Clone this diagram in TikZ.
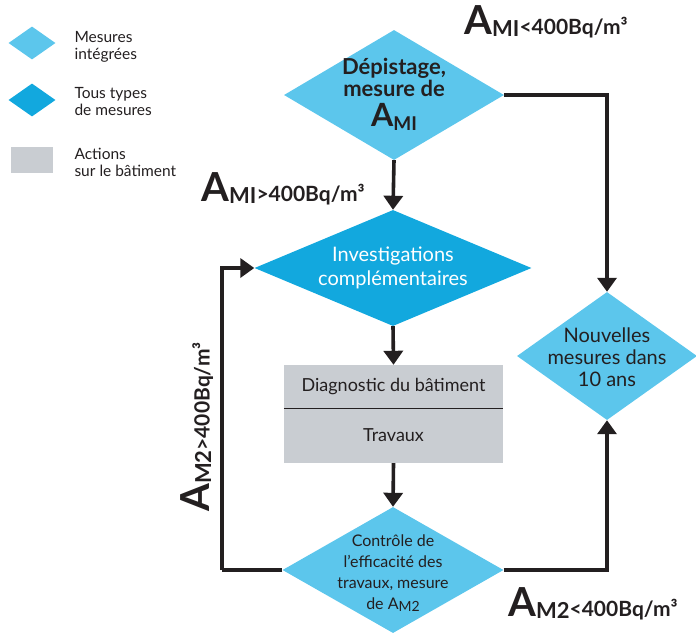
\documentclass[tikz,border=0pt]{standalone}
\usepackage{fontspec}
\setmainfont{Lato}
\usetikzlibrary{arrows.meta,shapes.geometric}

\definecolor{bleuclair}{HTML}{5CC6EC}
\definecolor{bleufonce}{HTML}{12A8DE}
\definecolor{grisbat}{HTML}{C9CDD2}
\definecolor{encre}{HTML}{231F20}

\newcommand{\Aval}[2]{{\fontsize{40}{40}\selectfont A}\raisebox{-0.3ex}{\fontsize{22}{22}\selectfont #1}{\fontsize{21}{21}\selectfont #2}}

\tikzset{
  losange/.style = {diamond, inner sep=0pt, minimum width=#1},
  fleche/.style = {line width=3.6pt, encre, -{Triangle[width=19pt,length=14pt]}},
  trait/.style = {line width=3.6pt, encre},
  txt/.style = {align=center, text=encre, font=\fontsize{18}{20}\selectfont},
  seuil/.style = {text=encre, font=\bfseries, inner sep=0pt}
}

\begin{document}
\begin{tikzpicture}[x=1pt, y=-1pt]
\useasboundingbox (0,0) rectangle (696,633);

% legende
\node[losange=47pt, minimum height=33pt, fill=bleuclair] (legint) at (32,43) {};
\node[losange=47pt, minimum height=33pt, fill=bleufonce] (legtous) at (32,100) {};
\fill[grisbat] (11,147) rectangle (53,173);
\node[txt, align=left, anchor=west, font=\fontsize{15.5}{17}\selectfont] (legintt) at (71,47) {Mesures\\intégrées};
\node[txt, align=left, anchor=west, font=\fontsize{15.5}{17}\selectfont] (legtoust) at (71,102) {Tous types\\de mesures};
\node[txt, align=left, anchor=west, font=\fontsize{15.5}{17}\selectfont] (legact) at (71,162) {Actions\\sur le bâtiment};

% losanges
\node[losange=220pt, minimum height=130pt, fill=bleuclair] (dep) at (394,95) {};
\node[txt, font=\bfseries\fontsize{22}{22}\selectfont] (deptxt) at (394,94) {Dépistage,\\mesure de\\[6pt]{\fontsize{32}{24}\selectfont A}\raisebox{-0.3ex}{\fontsize{19}{19}\selectfont MI}};
\node[losange=277pt, minimum height=116pt, fill=bleufonce] (inv) at (393,268) {};
\node[txt, text=white, font=\fontsize{20}{24}\selectfont] (invtxt) at (inv) {Investigations\\complémentaires};
\node[losange=180pt, minimum height=128pt, fill=bleuclair] (nouv) at (607,356) {};
\node[txt, font=\fontsize{20}{22}\selectfont] (nouvtxt) at (607,357) {Nouvelles\\mesures dans\\10 ans};
\node[losange=221pt, minimum height=126pt, fill=bleuclair] (ctl) at (393,570) {};
\node[txt, font=\fontsize{16}{21}\selectfont] (ctltxt) at (393,573) {Contrôle de\\l'efficacité des\\travaux, mesure\\de A\raisebox{-0.2ex}{\fontsize{14}{14}\selectfont M2}};

% batiment
\node[fill=grisbat, minimum width=219pt, minimum height=43pt, inner sep=0pt, txt] (diag) at (393.5,386.5) {Diagnostic du bâtiment};
\node[fill=grisbat, minimum width=219pt, minimum height=55pt, inner sep=0pt, txt] (trav) at (393.5,435.5) {Travaux};
\draw[line width=1.2pt, encre] (diag.south west) -- (diag.south east);

% fleches
\coordinate (retour) at (222,570);
\draw[fleche] (dep.south) -- (inv.north);
\draw[fleche] (dep.east) -| (nouv.north);
\draw[fleche] (inv.south) -- (diag.north);
\draw[fleche] (trav.south) -- (ctl.north);
\draw[trait] (ctl.west) -- (retour);
\draw[fleche] (retour) |- (inv.west);
\draw[fleche] (ctl.east) -| (nouv.south);

% seuils
\node[seuil] (s1) at (546,22) {\Aval{MI}{<400Bq/m³}};
\node[seuil] (s2) at (283,189) {\Aval{MI}{>400Bq/m³}};
\node[seuil, rotate=90] (s3) at (197,427) {\Aval{M2}{>400Bq/m³}};
\node[seuil] (s4) at (593,604) {\Aval{M2}{<400Bq/m³}};
\end{tikzpicture}
\end{document}
